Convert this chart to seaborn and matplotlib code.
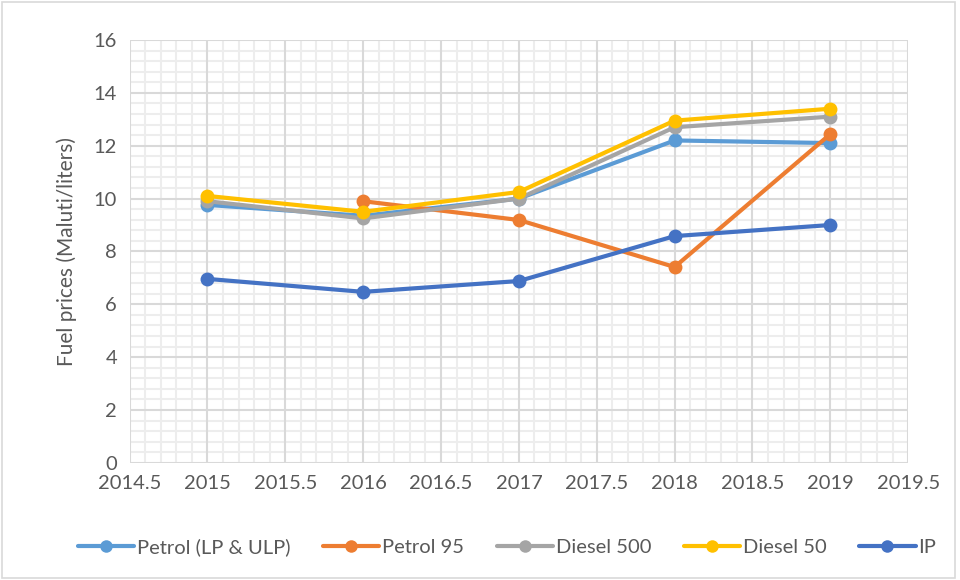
import matplotlib
matplotlib.use('Agg')
import matplotlib.pyplot as plt
import seaborn as sns
import pandas as pd
import numpy as np
from matplotlib.ticker import MultipleLocator

# Dane
years = [2015, 2016, 2017, 2018, 2019]
petrol_lp_ulp = [9.76, 9.35, 10.0, 12.2, 12.1]
petrol_95 = [np.nan, 9.9, 9.19, 7.41, 12.44]
diesel_500 = [9.9, 9.25, 10.0, 12.7, 13.1]
diesel_50 = [10.1, 9.5, 10.25, 12.95, 13.4]
ip = [6.96, 6.47, 6.88, 8.58, 9.0]

series_names = ['Petrol (LP & ULP)', 'Petrol 95', 'Diesel 500', 'Diesel 50', 'IP']
colors = ['#5B9BD5', '#ED7D31', '#A5A5A5', '#FFC000', '#4472C4']
x_labels = ['2014.5', '2015', '2015.5', '2016', '2016.5', '2017',
            '2017.5', '2018', '2018.5', '2019', '2019.5']

# Format długi dla seaborn
frames = []
for name, vals in zip(series_names, [petrol_lp_ulp, petrol_95, diesel_500, diesel_50, ip]):
    frames.append(pd.DataFrame({'year': years, 'price': vals, 'fuel': name}))
df = pd.concat(frames).dropna()

sns.set_style('white')
plt.rcParams['font.family'] = ['Lato', 'DejaVu Sans']

fig, ax = plt.subplots(figsize=(9.6, 5.8), dpi=100)
fig.subplots_adjust(left=0.135, right=0.946, top=0.931, bottom=0.202)

sns.lineplot(data=df, x='year', y='price', hue='fuel', hue_order=series_names,
             palette=colors, marker='o', markersize=10, markeredgewidth=0,
             linewidth=3, ax=ax, zorder=3)

ax.set_xlim(2014.5, 2019.5)
ax.set_ylim(0, 16)
ax.xaxis.set_major_locator(MultipleLocator(0.5))
ax.xaxis.set_minor_locator(MultipleLocator(0.1))
ax.yaxis.set_major_locator(MultipleLocator(2))
ax.yaxis.set_minor_locator(MultipleLocator(0.4))
ax.set_xticks(np.arange(2014.5, 2019.51, 0.5))
ax.set_xticklabels(x_labels)

# siatka pomocnicza (jasna), a główna rysowana na wierzchu
ax.grid(which='minor', color='#EDEDED', linewidth=1.5)
ax.grid(which='major', visible=False)
for xv in ax.get_xticks():
    ax.axvline(xv, color='#D9D9D9', linewidth=1.5, zorder=1)
for yv in ax.get_yticks():
    ax.axhline(yv, color='#D9D9D9', linewidth=1.5, zorder=1)
ax.set_axisbelow(True)
for s in ax.spines.values():
    s.set_visible(False)
ax.tick_params(axis='both', which='both', length=0, labelsize=14.5, colors='#595959', pad=9)

ax.set_xlabel('')
ax.set_ylabel('Fuel prices (Maluti/liters)', fontsize=15, color='#595959', labelpad=12)

ax.legend(loc='upper center', bbox_to_anchor=(0.485, -0.135), ncol=5, frameon=False,
          fontsize=14.5, handlelength=2.8, handletextpad=0.15, columnspacing=1.6,
          labelcolor='#595959', markerscale=0.9)

# ramka wokół całego wykresu
fig.patches.append(plt.Rectangle((0.002, 0.003), 0.993, 0.994, transform=fig.transFigure,
                                 fill=False, edgecolor='#D9D9D9', linewidth=1.2))

fig.savefig('out.png', dpi=100)
